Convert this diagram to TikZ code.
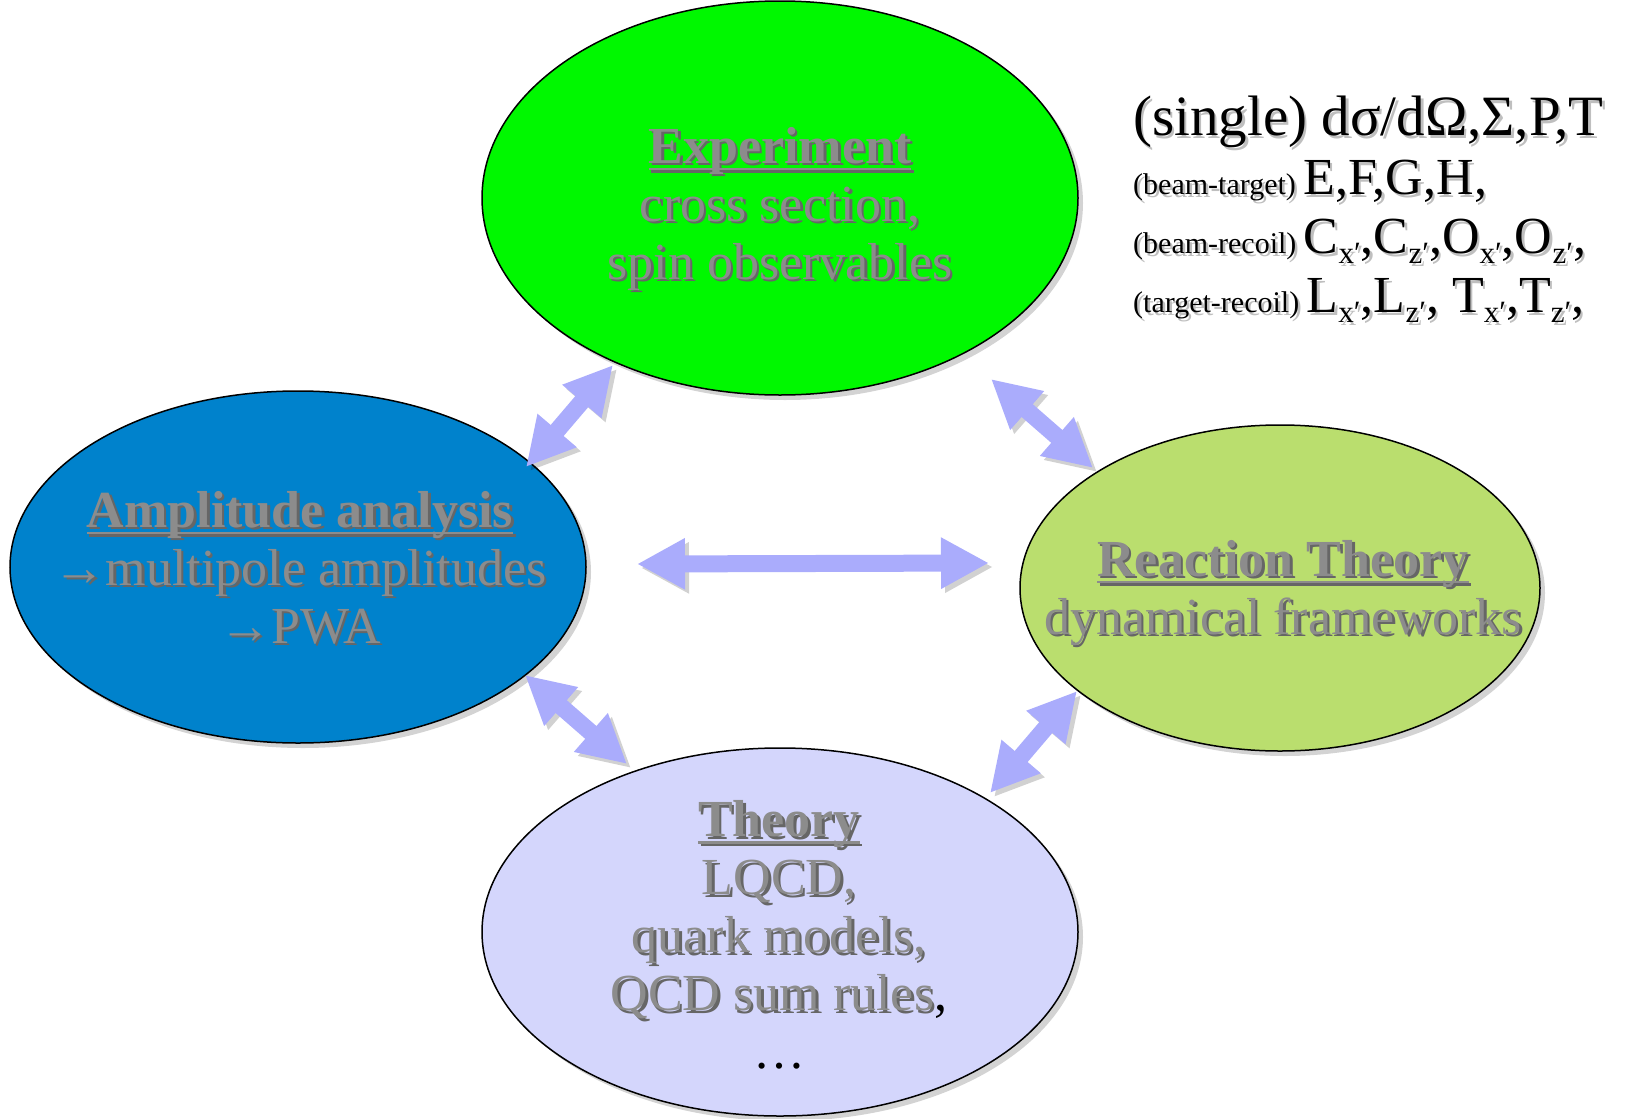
\documentclass[tikz,border=0pt]{standalone}
\usepackage{fontspec}
\setmainfont{Liberation Serif}
\usetikzlibrary{shapes.geometric, arrows.meta, shadows}

\definecolor{expgreen}{RGB}{0,248,0}
\definecolor{ampblue}{RGB}{0,130,204}
\definecolor{reacgreen}{RGB}{186,222,110}
\definecolor{theolav}{RGB}{212,214,252}
\definecolor{arrowlav}{RGB}{170,172,252}
\definecolor{txtgray}{RGB}{140,140,140}

% text with a shadow below right
\newcommand{\shline}[2][black!60]{\leavevmode\rlap{\kern2.5pt\raisebox{-2.5pt}{\color{#1}#2}}#2}
% underline through the descenders
\newcommand{\ul}[1]{\setbox0\hbox{#1}\rlap{\rule[-7pt]{\wd0}{2.5pt}}\box0}
% primed index
\newcommand{\lo}[1]{\raisebox{-10pt}{\fontsize{31}{31}\selectfont #1′}}

\tikzset{
  bubble/.style={ellipse, draw=black, line width=1.5pt, inner sep=0pt,
    drop shadow={shadow xshift=5pt, shadow yshift=-5pt, opacity=.35}},
  bubtext/.style={align=center, text=txtgray, inner sep=0pt,
    font=\fontsize{52}{58}\selectfont},
  linkarrow/.style={draw=arrowlav, line width=17pt,
    {Triangle[length=48pt,width=48pt]}-{Triangle[length=48pt,width=48pt]},
    preaction={draw=black, opacity=.18, transform canvas={shift={(4pt,-4pt)}}}}
}

\begin{document}
\begin{tikzpicture}[x=1pt,y=-1pt]
\useasboundingbox (0,0) rectangle (1628,1119);

% Draw the four ellipses
\node[bubble, fill=expgreen, minimum width=596pt, minimum height=394pt] (exp) at (780,198) {};
\node[bubble, fill=ampblue, minimum width=576pt, minimum height=352pt] (amp) at (298,567) {};
\node[bubble, fill=reacgreen, minimum width=520pt, minimum height=326pt] (reac) at (1280,588) {};
\node[bubble, fill=theolav, minimum width=596pt, minimum height=368pt] (theo) at (780,932) {};

% their texts
\node[bubtext] (exp-txt) at (780,210) {%
  \shline{\bfseries\ul{Experiment}}\\
  \shline{cross section,}\\
  \shline{spin observables}};
\node[bubtext] (amp-txt) at (300,569) {%
  \shline{\bfseries\ul{Amplitude analysis}}\\
  \shline{→multipole amplitudes}\\
  \shline{→PWA}};
\node[bubtext] (reac-txt) at (1283,594) {%
  \shline{\bfseries\ul{Reaction Theory}}\\
  \shline{dynamical frameworks}};
\node[bubtext] (theo-txt) at (779,935) {%
  \shline{\bfseries\ul{Theory}}\\
  \shline{LQCD,}\\
  \shline{quark models,}\\
  \shline{QCD sum rules}\textcolor{black}{,}\\
  \textcolor{black}{…}};

% observables
\node[anchor=north west, inner sep=0pt, align=left, font=\fontsize{57}{59}\selectfont] (obs) at (1133,96) {%
  \shline[black!25]{(single) dσ/dΩ,Σ,P,T}\\
  \shline[black!25]{\fontsize{30}{59}\selectfont (beam-target) \fontsize{52}{59}\selectfont E,F,G,H,}\\
  \shline[black!25]{\fontsize{30}{59}\selectfont (beam-recoil) \fontsize{52}{59}\selectfont C\lo{x},C\lo{z},O\lo{x},O\lo{z},}\\
  \shline[black!25]{\fontsize{30}{59}\selectfont (target-recoil) \fontsize{52}{59}\selectfont L\lo{x},L\lo{z}, T\lo{x},T\lo{z},}};

% arrow ends
\coordinate (e1) at (613,365);
\coordinate (a1) at (526,467);
\coordinate (e2) at (991,379);
\coordinate (r1) at (1093,468);
\coordinate (a2) at (637,564);
\coordinate (r2) at (989,563);
\coordinate (a3) at (525,675);
\coordinate (t1) at (627,764);
\coordinate (r3) at (1077,691);
\coordinate (t2) at (990,793);

% double arrows
\draw[linkarrow] (e1) -- (a1);
\draw[linkarrow] (e2) -- (r1);
\draw[linkarrow] (a2) -- (r2);
\draw[linkarrow] (a3) -- (t1);
\draw[linkarrow] (r3) -- (t2);

\end{tikzpicture}
\end{document}
